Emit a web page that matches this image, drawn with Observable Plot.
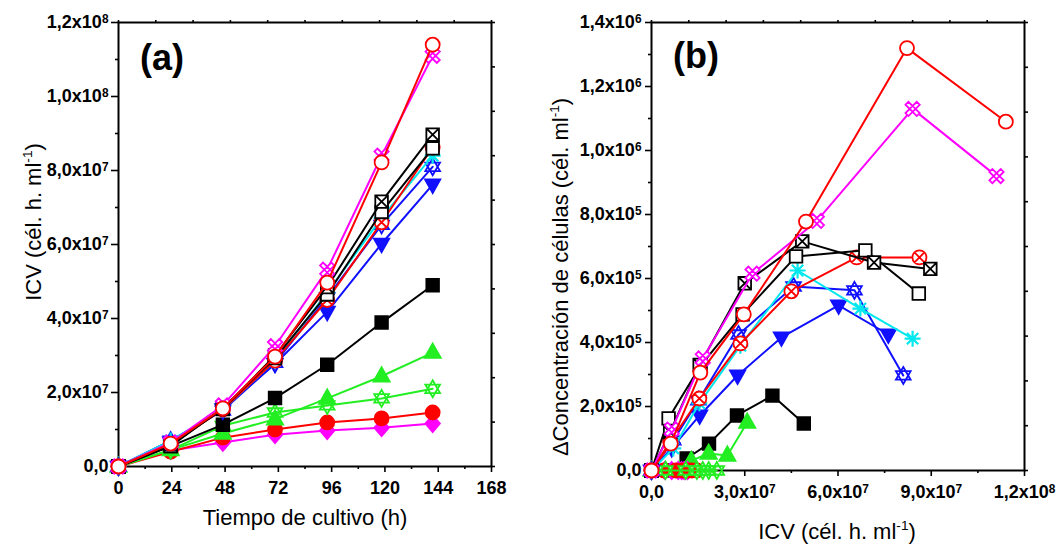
<!DOCTYPE html>
<html>
<head>
<meta charset="utf-8">
<script src="https://cdn.jsdelivr.net/npm/d3@7"></script>
<script src="https://cdn.jsdelivr.net/npm/@observablehq/plot@0.6"></script>
<style>
  html, body { margin: 0; padding: 0; background: #fff; }
  #wrap { position: relative; width: 1058px; height: 546px; overflow: hidden; }
  #wrap svg { position: absolute; top: 0; }
</style>
</head>
<body>
<div id="wrap"></div>
<script>
// Sampling times of the cultures (h)
const hours = [0, 23.5, 47, 70.5, 94, 118.5, 141.5];

// Integral of viable cells (cél. h. ml-1) for each culture, one row per culture
const icv = [
  [0, 6.2e6, 1.57e7, 2.97e7, 4.97e7, 8.22e7, 1.14e8],
  [0, 6.5e6, 1.65e7, 3.25e7, 5.32e7, 8.40e7, 1.11e8],
  [0, 6.0e6, 1.55e7, 3.00e7, 4.85e7, 7.16e7, 8.97e7],
  [0, 5.5e6, 1.58e7, 2.93e7, 4.65e7, 6.88e7, 8.60e7],
  [0, 6.0e6, 1.54e7, 2.86e7, 4.50e7, 6.60e7, 8.62e7],
  [0, 7.0e6, 1.54e7, 2.86e7, 4.70e7, 6.72e7, 8.40e7],
  [0, 7.0e6, 1.51e7, 2.80e7, 4.57e7, 6.53e7, 8.10e7],
  [0, 6.5e6, 1.55e7, 2.77e7, 4.18e7, 6.02e7, 7.62e7],
  [0, 5.5e6, 1.13e7, 1.85e7, 2.75e7, 3.89e7, 4.90e7],
  [0, 4.5e6, 8.9e6, 1.28e7, 1.84e7, 2.44e7, 3.08e7],
  [0, 4.5e6, 1.10e7, 1.46e7, 1.65e7, 1.84e7, 2.10e7],
  [0, 4.0e6, 7.8e6, 1.00e7, 1.19e7, 1.30e7, 1.46e7],
  [0, 4.3e6, 6.5e6, 8.6e6, 9.7e6, 1.05e7, 1.16e7]
];

// Increase of cell concentration (cél. ml-1) for each culture
const deltaCells = [
  [0, 8.4e4, 3.06e5, 4.88e5, 7.78e5, 1.32e6, 1.09e6],
  [0, 1.28e5, 3.50e5, 6.15e5, 7.80e5, 1.13e6, 9.20e5],
  [0, 1.20e5, 3.30e5, 5.85e5, 7.16e5, 6.50e5, 6.30e5],
  [0, 1.63e5, 3.28e5, 4.88e5, 6.69e5, 6.88e5, 5.53e5],
  [0, 9.0e4, 2.25e5, 3.97e5, 5.60e5, 6.66e5, 6.66e5],
  [0, 6.9e4, 2.10e5, 3.90e5, 6.25e5, 5.06e5, 4.12e5],
  [0, 9.4e4, 2.19e5, 4.25e5, 5.75e5, 5.63e5, 2.97e5],
  [0, 7.0e4, 1.72e5, 2.97e5, 4.16e5, 5.16e5, 4.25e5],
  [0, 0, 3.75e4, 8.4e4, 1.72e5, 2.34e5, 1.47e5],
  [0, 0, 0, 3.1e4, 5.3e4, 4.7e4, 1.5e5],
  [0, 0, 0, 0, 0, 0, 0],
  [0, 0, 0, 0, 0, 0, 0],
  [0, 0, 0, 0, 0, 0, 0]
];

// Tick values
const hourTicks = [0, 24, 48, 72, 96, 120, 144, 168];
const icvTicks = [0, 2e7, 4e7, 6e7, 8e7, 1e8, 1.2e8];
const icvTicksB = [0, 3e7, 6e7, 9e7, 1.2e8];
const deltaTicks = [0, 2e5, 4e5, 6e5, 8e5, 1e6, 1.2e6, 1.4e6];

// ---- styling per culture ----
const seriesColor = ["#ff0000", "#ff00ff", "#000000", "#000000", "#ff0000", "#00e8ee", "#1010ff",
                     "#1010ff", "#000000", "#22ee22", "#22ee22", "#ff0000", "#ff00ff"];
const seriesSymbol = ["circle", "xOutline", "squareX", "square", "circleX", "asterisk", "hexagram",
                      "triDown", "square", "triUp", "hexagram", "circle", "diamond"];
const seriesFilled = [false, false, false, false, false, false, false,
                      true, true, true, false, true, true];
// painting order per panel, last one on top
const drawOrderA = [12, 11, 10, 9, 8, 7, 6, 5, 4, 3, 2, 1, 0];
const drawOrderB = [8, 9, 12, 11, 10, 7, 6, 5, 4, 3, 2, 1, 0];

// Marker shapes (d3-symbol style objects, size is the area)
const S = (fn) => ({draw(ctx, size) { fn(ctx, Math.sqrt(size / Math.PI)); }});
const symbols = {
  circle: S((c, r) => { c.moveTo(r, 0); c.arc(0, 0, r, 0, 2 * Math.PI); }),
  circleX: S((c, r) => {
    c.moveTo(r, 0); c.arc(0, 0, r, 0, 2 * Math.PI);
    const k = r * 0.707;
    c.moveTo(-k, -k); c.lineTo(k, k); c.moveTo(-k, k); c.lineTo(k, -k);
  }),
  square: S((c, r) => { const s = r * 0.9; c.rect(-s, -s, 2 * s, 2 * s); }),
  squareX: S((c, r) => {
    const s = r * 0.9; c.rect(-s, -s, 2 * s, 2 * s);
    c.moveTo(-s, -s); c.lineTo(s, s); c.moveTo(-s, s); c.lineTo(s, -s);
  }),
  xOutline: S((c, r) => {
    const t = r * 0.26, e = r;
    const pts = [[t, t], [t, e], [-t, e], [-t, t], [-e, t], [-e, -t], [-t, -t], [-t, -e], [t, -e], [t, -t], [e, -t], [e, t]];
    const a = Math.PI / 4, ca = Math.cos(a), sa = Math.sin(a);
    pts.forEach(([x, y], i) => {
      const X = x * ca - y * sa, Y = x * sa + y * ca;
      i ? c.lineTo(X, Y) : c.moveTo(X, Y);
    });
    c.closePath();
    c.moveTo(-t * 1.4, 0); c.lineTo(0, -t * 1.4); c.lineTo(t * 1.4, 0); c.lineTo(0, t * 1.4); c.closePath();
  }),
  asterisk: S((c, r) => {
    for (let i = 0; i < 4; i++) {
      const a = i * Math.PI / 4, x = r * Math.cos(a), y = r * Math.sin(a);
      c.moveTo(-x, -y); c.lineTo(x, y);
    }
  }),
  hexagram: S((c, r) => {
    [[-90, 30, 150], [90, -30, 210]].forEach(tri => {
      tri.forEach((deg, i) => {
        const a = deg * Math.PI / 180, x = r * Math.cos(a), y = r * Math.sin(a);
        i ? c.lineTo(x, y) : c.moveTo(x, y);
      });
      c.closePath();
    });
  }),
  triDown: S((c, r) => { c.moveTo(0, r); c.lineTo(-r * 0.9, -r * 0.6); c.lineTo(r * 0.9, -r * 0.6); c.closePath(); }),
  triUp: S((c, r) => { c.moveTo(0, -r); c.lineTo(-r * 0.9, r * 0.6); c.lineTo(r * 0.9, r * 0.6); c.closePath(); }),
  diamond: S((c, r) => { c.moveTo(0, -r); c.lineTo(r * 0.85, 0); c.lineTo(0, r); c.lineTo(-r * 0.85, 0); c.closePath(); })
};
const symbolRadius = {circle: 7, circleX: 7, square: 7, squareX: 7, xOutline: 8, asterisk: 8,
                      hexagram: 8.5, triDown: 8.5, triUp: 9, diamond: 8.5};

// "1,2x10^8" style labels; the exponent is raised after rendering
const sci = (v) => {
  if (v === 0) return "0,0";
  const e = Math.floor(Math.log10(v) + 1e-9);
  return (v / 10 ** e).toFixed(1).replace(".", ",") + "x10^" + e;
};
const blank = () => "";

const FONT = "'Liberation Sans', Arial, Helvetica, sans-serif";

function seriesMarks(xKey, yKey, order) {
  const marks = [];
  for (const i of order) {
    const rows = hours.map((h, j) => ({h, icv: icv[i][j], delta: deltaCells[i][j]}));
    const col = seriesColor[i];
    const name = seriesSymbol[i];
    marks.push(Plot.line(rows, {x: xKey, y: yKey, stroke: col, strokeWidth: 2}));
    marks.push(Plot.dot(rows, {
      x: xKey, y: yKey, r: symbolRadius[name], symbol: symbols[name],
      fill: name === "asterisk" ? "none" : (seriesFilled[i] ? col : "white"),
      stroke: col, strokeWidth: name === "asterisk" ? 2.2 : 1.8
    }));
  }
  return marks;
}

function raiseExponents(svg) {
  svg.querySelectorAll("text").forEach(t => {
    const s = t.textContent, i = s.indexOf("^");
    if (i < 0 || t.querySelector("tspan")) return;
    t.textContent = s.slice(0, i);
    const sup = document.createElementNS("http://www.w3.org/2000/svg", "tspan");
    sup.setAttribute("dy", "-0.45em");
    sup.setAttribute("font-size", "0.66em");
    sup.textContent = s.slice(i + 1);
    t.appendChild(sup);
  });
}

function addText(svg, {x, y, rotate = 0, size = 22, weight = "normal", anchor = "middle", parts}) {
  const g = d3.select(svg).append("text")
    .attr("transform", `translate(${x},${y}) rotate(${rotate})`)
    .attr("text-anchor", anchor)
    .attr("font-family", FONT)
    .attr("font-size", size)
    .attr("font-weight", weight)
    .attr("fill", "black");
  parts.forEach(p => {
    const ts = g.append("tspan").text(p.text);
    if (p.sup) ts.attr("font-size", size * 0.62).attr("dy", -size * 0.42);
    if (p.after) ts.attr("dy", size * 0.42);
  });
}

const baseStyle = {fontFamily: FONT, fontSize: "18px", fontWeight: "bold", background: "white", overflow: "visible"};

// ---------- (a) ICV vs culture time ----------
const chartA = Plot.plot({
  width: 530, height: 546,
  marginLeft: 118, marginRight: 39, marginTop: 22, marginBottom: 80,
  style: baseStyle,
  x: {domain: [0, 168], label: null},
  y: {domain: [0, 1.2e8], label: null},
  marks: [
    Plot.axisX({ticks: hourTicks, tickSize: 6, tickPadding: 9, tickFormat: d => String(d), strokeWidth: 1.6, label: null}),
    Plot.axisX({ticks: d3.range(12, 168, 24), tickSize: 3, tickFormat: blank, strokeWidth: 1.6, label: null}),
    Plot.axisX({anchor: "top", ticks: d3.range(0, 168.1, 16.8), tickSize: 3, tickFormat: blank, strokeWidth: 1.6, label: null}),
    Plot.axisY({ticks: icvTicks, tickSize: 7, tickPadding: 3, tickFormat: sci, strokeWidth: 1.6, label: null}),
    Plot.axisY({ticks: d3.range(1e7, 1.2e8, 2e7), tickSize: 3, tickFormat: blank, strokeWidth: 1.6, label: null}),
    Plot.axisY({anchor: "right", ticks: d3.range(0, 1.2e8 + 1, 1.2e7), tickSize: 3, tickFormat: blank, strokeWidth: 1.6, label: null}),
    Plot.frame({stroke: "black", strokeWidth: 2}),
    ...seriesMarks("h", "icv", drawOrderA)
  ]
});

// ---------- (b) increase of cell concentration vs ICV ----------
const chartB = Plot.plot({
  width: 528, height: 546,
  marginLeft: 121, marginRight: 34, marginTop: 22, marginBottom: 76,
  style: baseStyle,
  x: {domain: [0, 1.2e8], label: null},
  y: {domain: [0, 1.4e6], label: null},
  marks: [
    Plot.axisX({ticks: icvTicksB, tickSize: 6, tickPadding: 9, tickFormat: sci, strokeWidth: 1.6, label: null}),
    Plot.axisX({ticks: d3.range(1.5e7, 1.2e8, 3e7), tickSize: 3, tickFormat: blank, strokeWidth: 1.6, label: null}),
    Plot.axisX({anchor: "top", ticks: d3.range(0, 1.2e8 + 1, 1.2e7), tickSize: 3, tickFormat: blank, strokeWidth: 1.6, label: null}),
    Plot.axisY({ticks: deltaTicks, tickSize: 6, tickPadding: 4, tickFormat: sci, strokeWidth: 1.6, label: null}),
    Plot.axisY({ticks: d3.range(1e5, 1.4e6, 2e5), tickSize: 3, tickFormat: blank, strokeWidth: 1.6, label: null}),
    Plot.axisY({anchor: "right", ticks: d3.range(0, 1.4e6 + 1, 1.4e5), tickSize: 3, tickFormat: blank, strokeWidth: 1.6, label: null}),
    Plot.frame({stroke: "black", strokeWidth: 2}),
    ...seriesMarks("icv", "delta", drawOrderB)
  ]
});

raiseExponents(chartA);
raiseExponents(chartB);

// Axis titles and panel letters
addText(chartA, {x: 305, y: 525, parts: [{text: "Tiempo de cultivo (h)"}]});
addText(chartA, {x: 41, y: 222, rotate: -90, parts: [{text: "ICV (cél. h. ml"}, {text: "-1", sup: true}, {text: ")", after: true}]});
addText(chartA, {x: 162, y: 70, size: 36, weight: "bold", parts: [{text: "(a)"}]});

addText(chartB, {x: 307, y: 539, parts: [{text: "ICV (cél. h. ml"}, {text: "-1", sup: true}, {text: ")", after: true}]});
addText(chartB, {x: 38, y: 277, rotate: -90, parts: [{text: "ΔConcentración de células (cél. ml"}, {text: "-1", sup: true}, {text: ")", after: true}]});
addText(chartB, {x: 166, y: 68, size: 36, weight: "bold", parts: [{text: "(b)"}]});

chartA.style.left = "0px";
chartB.style.left = "530px";
document.getElementById("wrap").append(chartA, chartB);
</script>
</body>
</html>
